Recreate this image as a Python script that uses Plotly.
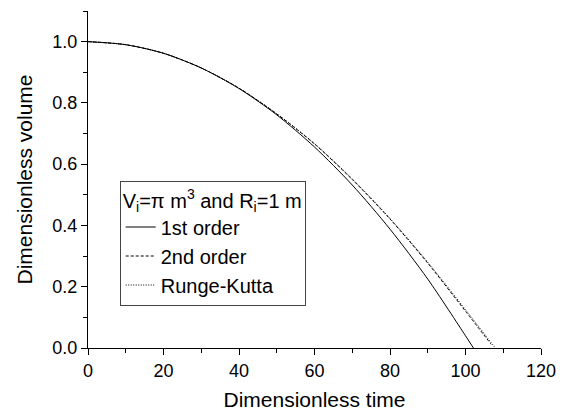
import plotly.graph_objects as go

# Data
t_first = [0, 10, 20, 30, 40, 50, 60, 70, 80, 90, 100, 102.1]
v_first = [1.0, 0.990, 0.962, 0.914, 0.847, 0.761, 0.656, 0.532, 0.388, 0.225, 0.040, 0.0]

t_second = [0, 10, 20, 30, 40, 50, 60, 70, 80, 90, 100, 106.8]
v_second = [1.0, 0.990, 0.962, 0.914, 0.848, 0.764, 0.666, 0.550, 0.421, 0.277, 0.120, 0.012]

t_rk = [0, 10, 20, 30, 40, 50, 60, 70, 80, 90, 100, 107.9]
v_rk = [1.0, 0.990, 0.962, 0.914, 0.848, 0.765, 0.667, 0.552, 0.423, 0.280, 0.125, 0.0]

names = ["1st order", "2nd order", "Runge-Kutta"]
dashes = ["solid", "3px,2px", "1px,1.5px"]

FONT = "Arial, 'Liberation Sans', sans-serif"

fig = go.Figure()
for t, v, name, dash in zip([t_first, t_second, t_rk], [v_first, v_second, v_rk], names, dashes):
    fig.add_trace(go.Scatter(
        x=t, y=v, mode="lines", name=name,
        line=dict(color="black", width=1, dash=dash, shape="spline", smoothing=0.8),
    ))

axis_common = dict(
    showgrid=False, zeroline=False, showline=True, linecolor="black", linewidth=1,
    ticks="outside", ticklen=6, tickwidth=1, tickcolor="black",
    tickfont=dict(family=FONT, size=18, color="black"),
    mirror=False,
)

fig.update_xaxes(
    range=[0, 120], dtick=20, tick0=0,
    minor=dict(dtick=10, ticks="outside", ticklen=4, tickcolor="black", showgrid=False),
    title=dict(text="Dimensionless time", font=dict(family=FONT, size=21, color="black"), standoff=12),
    **axis_common,
)
fig.update_yaxes(
    range=[0, 1.1], dtick=0.2, tick0=0, tickformat=".1f",
    minor=dict(dtick=0.1, ticks="outside", ticklen=4, tickcolor="black", showgrid=False),
    title=dict(text="Dimensionless volume", font=dict(family=FONT, size=21, color="black"), standoff=14),
    **axis_common,
)

fig.update_layout(
    width=567, height=418,
    margin=dict(l=88, r=18, t=11, b=65),
    paper_bgcolor="white", plot_bgcolor="white",
    font=dict(family=FONT, color="black"),
    showlegend=True,
    legend=dict(
        x=0.07, y=0.497, xanchor="left", yanchor="top",
        bgcolor="white", bordercolor="#444", borderwidth=1,
        font=dict(family=FONT, size=20, color="black"),
        title=dict(text="V<sub>i</sub>=π m<sup>3</sup> and R<sub>i</sub>=1 m",
                   font=dict(family=FONT, size=20, color="black")),
        tracegroupgap=0, itemwidth=30,
    ),
)

fig.write_html("out.html")
